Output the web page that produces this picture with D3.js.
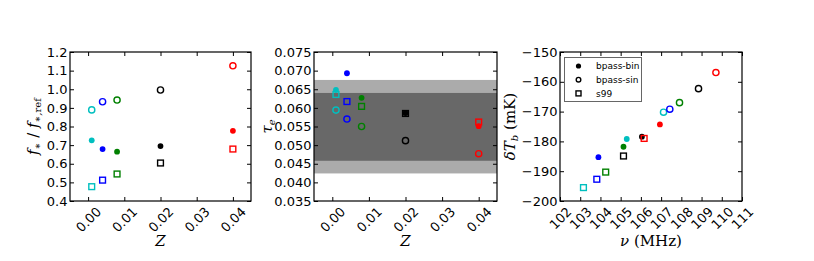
<!DOCTYPE html>
<html>
<head>
<meta charset="utf-8">
<script src="https://cdn.jsdelivr.net/npm/d3@7"></script>
<style>
  body { margin: 0; background: #fff; }
  svg { display: block; }
</style>
</head>
<body>
<svg width="814" height="261"></svg>
<script>
// metallicities and their colours
const metallicity = [0.001, 0.004, 0.008, 0.02, 0.04];
const colors = ['#00bfbf', '#0000ff', '#008000', '#000000', '#ff0000'];

// f* / f*,ref
const fstarBin = [0.726, 0.679, 0.665, 0.695, 0.777];
const fstarSin = [0.889, 0.933, 0.942, 0.996, 1.126];
const fstarS99 = [0.477, 0.512, 0.545, 0.604, 0.679];

// optical depth
const tauBin = [0.0648, 0.0693, 0.0627, 0.0586, 0.0551];
const tauSin = [0.0594, 0.0570, 0.0550, 0.0512, 0.0477];
const tauS99 = [0.0636, 0.0617, 0.0604, 0.0585, 0.0562];
const tauInner = [0.0458, 0.0640];
const tauOuter = [0.0424, 0.0675];

// absorption trough position and depth
const nuBin = [105.30, 103.90, 105.14, 106.05, 106.94];
const nuSin = [107.12, 107.43, 107.91, 108.85, 109.71];
const nuS99 = [103.16, 103.82, 104.26, 105.14, 106.16];
const dTbBin = [-179.2, -185.3, -181.8, -178.4, -174.3];
const dTbSin = [-170.2, -169.2, -167.0, -162.3, -156.9];
const dTbS99 = [-195.5, -192.7, -190.3, -184.9, -179.0];

// ticks
const zTicks = [0.00, 0.01, 0.02, 0.03, 0.04];
const fTicks = [0.4, 0.5, 0.6, 0.7, 0.8, 0.9, 1.0, 1.1, 1.2];
const tauTicks = [0.035, 0.040, 0.045, 0.050, 0.055, 0.060, 0.065, 0.070, 0.075];
const nuTicks = [102, 103, 104, 105, 106, 107, 108, 109, 110, 111];
const dTbTicks = [-200, -190, -180, -170, -160, -150];

const legendLabels = ['bpass-bin', 'bpass-sin', 's99'];

const svg = d3.select('svg')
    .style('font-family', 'DejaVu Sans, sans-serif');

const plotTop = 52, plotBottom = 201;
const fontSize = 13;

const makePanel = (cfg) => {
    const g = svg.append('g');
    const x = d3.scaleLinear().domain(cfg.xDomain).range([cfg.left, cfg.right]);
    const y = d3.scaleLinear().domain(cfg.yDomain).range([plotBottom, plotTop]);

    if (cfg.background) cfg.background(g, x, y);

    // series: filled, open, squares
    cfg.series.forEach((s, si) => {
        s.xs.forEach((xv, i) => {
            const cx = x(xv), cy = y(s.ys[i]);
            if (si === 0) {
                g.append('circle').attr('cx', cx).attr('cy', cy).attr('r', 2.9)
                    .attr('fill', colors[i]);
            } else if (si === 1) {
                g.append('circle').attr('cx', cx).attr('cy', cy).attr('r', 3.1)
                    .attr('fill', 'none').attr('stroke', colors[i]).attr('stroke-width', 1.4);
            } else {
                g.append('rect').attr('x', cx - 2.9).attr('y', cy - 2.9)
                    .attr('width', 5.8).attr('height', 5.8)
                    .attr('fill', 'none').attr('stroke', colors[i]).attr('stroke-width', 1.4);
            }
        });
    });

    const xAxis = d3.axisBottom(x).tickValues(cfg.xTicks).tickFormat(cfg.xFormat)
        .tickSizeInner(-4).tickSizeOuter(0);
    const xAxisTop = d3.axisTop(x).tickValues(cfg.xTicks).tickFormat('')
        .tickSizeInner(-4).tickSizeOuter(0);
    const yAxis = d3.axisLeft(y).tickValues(cfg.yTicks).tickFormat(cfg.yFormat)
        .tickSizeInner(-4).tickSizeOuter(0).tickPadding(2.5);
    const yAxisRight = d3.axisRight(y).tickValues(cfg.yTicks).tickFormat('')
        .tickSizeInner(-4).tickSizeOuter(0);

    const xg = g.append('g').attr('transform', `translate(0,${plotBottom})`).call(xAxis);
    g.append('g').attr('transform', `translate(0,${plotTop})`).call(xAxisTop);
    const yg = g.append('g').attr('transform', `translate(${cfg.left},0)`).call(yAxis);
    g.append('g').attr('transform', `translate(${cfg.right},0)`).call(yAxisRight);

    g.selectAll('.domain').remove();
    g.selectAll('.tick line').attr('stroke', '#000');

    yg.selectAll('text')
        .attr('font-size', fontSize).attr('font-family', 'DejaVu Sans').attr('fill', '#000');

    xg.selectAll('text')
        .attr('font-size', fontSize).attr('font-family', 'DejaVu Sans').attr('fill', '#000')
        .attr('text-anchor', 'middle')
        .attr('y', null).attr('dy', null)
        .attr('dominant-baseline', 'central')
        .attr('transform', function () {
            const w = this.getComputedTextLength();
            const h = (w + fontSize * 0.75) * Math.SQRT1_2;
            return `translate(0,${5 + h / 2}) rotate(-45)`;
        });

    g.append('rect')
        .attr('x', cfg.left).attr('y', plotTop)
        .attr('width', cfg.right - cfg.left).attr('height', plotBottom - plotTop)
        .attr('fill', 'none').attr('stroke', '#000').attr('stroke-width', 1.2);

    return { g, x, y };
};

const zFormat = d3.format('.2f');

// panel 1
makePanel({
    left: 70, right: 251,
    xDomain: [-0.005, 0.045], yDomain: [0.4, 1.2],
    xTicks: zTicks, yTicks: fTicks,
    xFormat: zFormat, yFormat: d3.format('.1f'),
    series: [
        { xs: metallicity, ys: fstarBin },
        { xs: metallicity, ys: fstarSin },
        { xs: metallicity, ys: fstarS99 }
    ]
});

// panel 2
makePanel({
    left: 314, right: 497,
    xDomain: [-0.005, 0.045], yDomain: [0.035, 0.075],
    xTicks: zTicks, yTicks: tauTicks,
    xFormat: zFormat, yFormat: d3.format('.3f'),
    background: (g, x, y) => {
        g.append('rect')
            .attr('x', x.range()[0]).attr('width', x.range()[1] - x.range()[0])
            .attr('y', y(tauOuter[1])).attr('height', y(tauOuter[0]) - y(tauOuter[1]))
            .attr('fill', '#ababab');
        g.append('rect')
            .attr('x', x.range()[0]).attr('width', x.range()[1] - x.range()[0])
            .attr('y', y(tauInner[1])).attr('height', y(tauInner[0]) - y(tauInner[1]))
            .attr('fill', '#686868');
    },
    series: [
        { xs: metallicity, ys: tauBin },
        { xs: metallicity, ys: tauSin },
        { xs: metallicity, ys: tauS99 }
    ]
});

// panel 3
makePanel({
    left: 560, right: 742,
    xDomain: [102, 111], yDomain: [-200, -150],
    xTicks: nuTicks, yTicks: dTbTicks,
    xFormat: d3.format('d'), yFormat: d => d3.format('d')(d).replace('-', '\u2212'),
    series: [
        { xs: nuBin, ys: dTbBin },
        { xs: nuSin, ys: dTbSin },
        { xs: nuS99, ys: dTbS99 }
    ]
});

// axis labels
const serif = 'DejaVu Serif, serif';

const xLabel = (cx, parts) => {
    const t = svg.append('text')
        .attr('x', cx).attr('y', 246)
        .attr('text-anchor', 'middle')
        .attr('font-family', serif).attr('font-size', 15);
    parts(t);
};

xLabel(160.5, t => t.append('tspan').attr('font-style', 'italic').text('Z'));
xLabel(405.5, t => t.append('tspan').attr('font-style', 'italic').text('Z'));
xLabel(651, t => {
    t.append('tspan').attr('font-style', 'italic').text('\u03bd');
    t.append('tspan').text(' (MHz)');
});

const yLabel = (cx, parts) => {
    const t = svg.append('text')
        .attr('transform', `translate(${cx},${(plotTop + plotBottom) / 2}) rotate(-90)`)
        .attr('text-anchor', 'middle')
        .attr('font-family', serif).attr('font-size', 15);
    parts(t);
};

yLabel(38, t => {
    t.append('tspan').attr('font-style', 'italic').text('f');
    t.append('tspan').attr('font-size', 10).attr('dy', 3).text('\u2217');
    t.append('tspan').attr('dy', -3).text(' / ');
    t.append('tspan').attr('font-style', 'italic').text('f');
    t.append('tspan').attr('font-size', 10).attr('dy', 3).attr('font-style', 'italic').text('\u2217,');
    t.append('tspan').attr('font-size', 10).text('ref');
});

yLabel(272, t => {
    t.append('tspan').attr('font-style', 'italic').text('\u03c4');
    t.append('tspan').attr('font-size', 10).attr('dy', 3).attr('font-style', 'italic').text('e');
});

yLabel(515, t => {
    t.append('tspan').attr('font-style', 'italic').text('\u03b4T');
    t.append('tspan').attr('font-size', 10).attr('dy', 3).attr('font-style', 'italic').text('b');
    t.append('tspan').attr('dy', -3).text(' (mK)');
});

// legend
const lg = svg.append('g');
lg.append('rect')
    .attr('x', 564.5).attr('y', 57.5).attr('width', 77).attr('height', 44)
    .attr('fill', '#fff').attr('stroke', '#666').attr('stroke-width', 1);

legendLabels.forEach((label, i) => {
    const ly = 66 + i * 13.7;
    const mx = 578.5;
    if (i === 0) {
        lg.append('circle').attr('cx', mx).attr('cy', ly).attr('r', 2.6).attr('fill', '#000');
    } else if (i === 1) {
        lg.append('circle').attr('cx', mx).attr('cy', ly).attr('r', 2.3)
            .attr('fill', 'none').attr('stroke', '#000').attr('stroke-width', 1.4);
    } else {
        lg.append('rect').attr('x', mx - 2.5).attr('y', ly - 2.5).attr('width', 5).attr('height', 5)
            .attr('fill', 'none').attr('stroke', '#000').attr('stroke-width', 1.4);
    }
    lg.append('text')
        .attr('x', 596).attr('y', ly).attr('dy', '0.35em')
        .attr('font-size', 9).attr('font-family', 'DejaVu Sans')
        .text(label);
});
</script>
</body>
</html>
